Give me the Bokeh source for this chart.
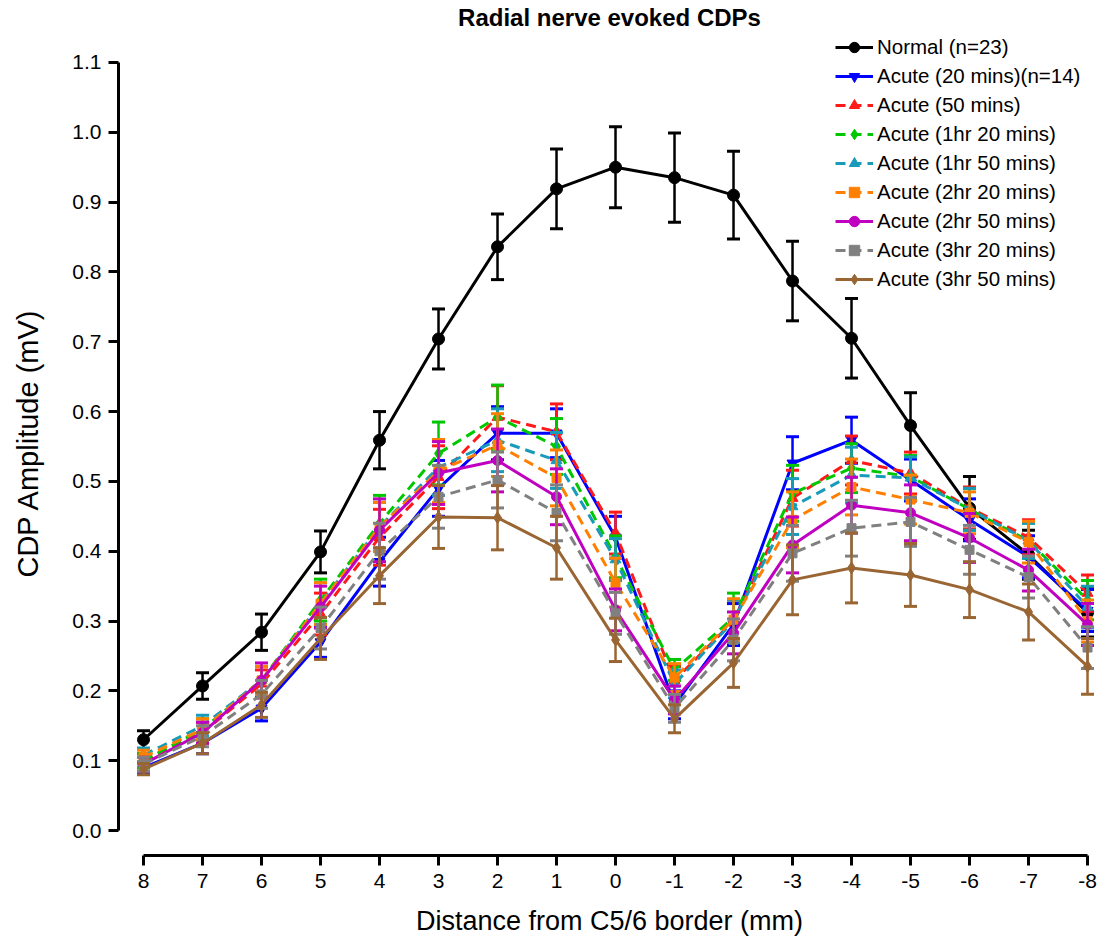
from bokeh.plotting import figure
from bokeh.models import Range1d, FixedTicker, PrintfTickFormatter, Legend, LegendItem
from bokeh.embed import file_html
from bokeh.resources import INLINE

# ---- data ----
distance = [8, 7, 6, 5, 4, 3, 2, 1, 0, -1, -2, -3, -4, -5, -6, -7, -8]
y_ticks = [0.0, 0.1, 0.2, 0.3, 0.4, 0.5, 0.6, 0.7, 0.8, 0.9, 1.0, 1.1]

labels = ["Normal (n=23)", "Acute (20 mins)(n=14)", "Acute (50 mins)", "Acute (1hr 20 mins)",
          "Acute (1hr 50 mins)", "Acute (2hr 20 mins)", "Acute (2hr 50 mins)",
          "Acute (3hr 20 mins)", "Acute (3hr 50 mins)"]

normal_mean = [0.130, 0.207, 0.284, 0.399, 0.559, 0.704, 0.836, 0.919, 0.950, 0.935, 0.910, 0.787, 0.705, 0.580, 0.462, 0.395, 0.312]
normal_sem = [0.013, 0.019, 0.026, 0.030, 0.041, 0.043, 0.047, 0.057, 0.058, 0.064, 0.063, 0.057, 0.057, 0.047, 0.045, 0.035, 0.035]

a20_mean = [0.090, 0.125, 0.175, 0.270, 0.385, 0.490, 0.569, 0.569, 0.420, 0.180, 0.295, 0.526, 0.559, 0.502, 0.445, 0.392, 0.315]
a20_sem = [0.008, 0.015, 0.018, 0.022, 0.035, 0.040, 0.038, 0.035, 0.030, 0.020, 0.030, 0.038, 0.033, 0.030, 0.030, 0.030, 0.030]

a50_mean = [0.100, 0.140, 0.210, 0.310, 0.420, 0.506, 0.592, 0.571, 0.426, 0.215, 0.300, 0.476, 0.530, 0.512, 0.462, 0.420, 0.340]
a50_sem = [0.010, 0.015, 0.020, 0.030, 0.040, 0.045, 0.045, 0.040, 0.030, 0.020, 0.030, 0.040, 0.035, 0.030, 0.030, 0.025, 0.026]

a1h20_mean = [0.100, 0.145, 0.215, 0.330, 0.440, 0.540, 0.592, 0.550, 0.392, 0.230, 0.305, 0.483, 0.519, 0.507, 0.460, 0.415, 0.330]
a1h20_sem = [0.010, 0.015, 0.020, 0.030, 0.040, 0.045, 0.046, 0.040, 0.030, 0.015, 0.035, 0.040, 0.035, 0.030, 0.030, 0.025, 0.028]

a1h50_mean = [0.108, 0.150, 0.215, 0.325, 0.435, 0.520, 0.559, 0.530, 0.388, 0.210, 0.300, 0.464, 0.509, 0.505, 0.460, 0.415, 0.320]
a1h50_sem = [0.010, 0.015, 0.020, 0.030, 0.035, 0.040, 0.045, 0.040, 0.030, 0.020, 0.030, 0.040, 0.040, 0.030, 0.030, 0.025, 0.030]

a2h20_mean = [0.105, 0.145, 0.215, 0.325, 0.435, 0.515, 0.552, 0.505, 0.355, 0.219, 0.302, 0.445, 0.492, 0.474, 0.455, 0.413, 0.300]
a2h20_sem = [0.010, 0.015, 0.020, 0.030, 0.035, 0.045, 0.045, 0.040, 0.035, 0.020, 0.030, 0.040, 0.040, 0.035, 0.030, 0.030, 0.030]

a2h50_mean = [0.095, 0.140, 0.215, 0.320, 0.430, 0.512, 0.530, 0.478, 0.316, 0.187, 0.283, 0.409, 0.466, 0.455, 0.419, 0.373, 0.295]
a2h50_sem = [0.010, 0.015, 0.025, 0.030, 0.045, 0.045, 0.045, 0.040, 0.030, 0.020, 0.030, 0.040, 0.040, 0.040, 0.035, 0.030, 0.030]

a3h20_mean = [0.095, 0.135, 0.195, 0.290, 0.400, 0.478, 0.502, 0.455, 0.311, 0.175, 0.273, 0.397, 0.433, 0.442, 0.402, 0.363, 0.262]
a3h20_sem = [0.010, 0.015, 0.020, 0.030, 0.040, 0.045, 0.040, 0.040, 0.030, 0.020, 0.030, 0.040, 0.040, 0.035, 0.035, 0.030, 0.030]

a3h50_mean = [0.088, 0.125, 0.180, 0.275, 0.365, 0.449, 0.448, 0.405, 0.273, 0.160, 0.240, 0.359, 0.376, 0.366, 0.345, 0.313, 0.235]
a3h50_sem = [0.008, 0.015, 0.018, 0.030, 0.040, 0.045, 0.046, 0.045, 0.031, 0.020, 0.035, 0.050, 0.050, 0.045, 0.040, 0.040, 0.040]

means = [normal_mean, a20_mean, a50_mean, a1h20_mean, a1h50_mean, a2h20_mean, a2h50_mean, a3h20_mean, a3h50_mean]
sems = [normal_sem, a20_sem, a50_sem, a1h20_sem, a1h50_sem, a2h20_sem, a2h50_sem, a3h20_sem, a3h50_sem]

# ---- styles ----
colors = ["#000000", "#0000FF", "#FF1A1A", "#00C800", "#189BB8", "#FF8000", "#C000C0", "#808080", "#996633"]
markers = ["circle", "inverted_triangle", "triangle", "diamond", "triangle", "square", "circle", "square", "diamond"]
msizes = [12, 11, 11, 12, 11, 9, 10, 9, 12]
dashes = ["solid", "solid", "10 6", "10 6", "10 6", "10 6", "solid", "10 6", "solid"]

FONT = "Liberation Sans"

p = figure(width=1104, height=945, output_backend="svg", toolbar_location=None,
           x_range=Range1d(8.424, -8.22), y_range=Range1d(-0.0358, 1.1458),
           min_border_left=118, min_border_right=4, min_border_top=30, min_border_bottom=90)

p.title.text = "Radial nerve evoked CDPs"
p.title.align = "center"
p.title.text_font = FONT
p.title.text_font_size = "24px"
p.title.text_font_style = "bold"
p.title.text_color = "black"
p.title.offset = 10
p.title.standoff = 0

p.outline_line_color = None
p.xgrid.visible = False
p.ygrid.visible = False

for ax in (p.xaxis[0], p.yaxis[0]):
    ax.axis_line_width = 3
    ax.major_tick_line_width = 3
    ax.major_tick_out = 10
    ax.major_tick_in = 0
    ax.minor_tick_line_color = None
    ax.major_label_text_font = FONT
    ax.major_label_text_font_size = "21px"
    ax.major_label_text_color = "black"
    ax.axis_label_text_font = FONT
    ax.axis_label_text_font_style = "normal"
    ax.axis_label_text_color = "black"

p.xaxis.ticker = FixedTicker(ticks=distance)
p.xaxis.major_label_overrides = {d: str(d) for d in distance}
p.xaxis.bounds = (min(distance), max(distance))
p.xaxis.major_label_standoff = 8
p.xaxis.axis_label = "Distance from C5/6 border (mm)"
p.xaxis.axis_label_text_font_size = "27px"
p.xaxis.axis_label_standoff = 15

p.yaxis.ticker = FixedTicker(ticks=y_ticks)
p.yaxis.bounds = (y_ticks[0], y_ticks[-1])
p.yaxis.formatter = PrintfTickFormatter(format="%.1f")
p.yaxis.major_label_standoff = 7
p.yaxis.axis_label = "CDP Amplitude (mV)"
p.yaxis.axis_label_text_font_size = "29px"
p.yaxis.axis_label_standoff = 25

items = []
for lab, m, s, c, mk, ms, d in zip(labels, means, sems, colors, markers, msizes, dashes):
    lo = [a - b for a, b in zip(m, s)]
    hi = [a + b for a, b in zip(m, s)]
    p.segment(x0=distance, y0=lo, x1=distance, y1=hi, line_color=c, line_width=2.5)
    p.scatter(x=distance, y=hi, marker="dash", size=13, line_color=c, line_width=3)
    p.scatter(x=distance, y=lo, marker="dash", size=13, line_color=c, line_width=3)
    ln = p.line(x=distance, y=m, line_color=c, line_width=3, line_dash=d)
    sc = p.scatter(x=distance, y=m, marker=mk, size=ms, fill_color=c, line_color=c)
    items.append(LegendItem(label=lab, renderers=[ln, sc]))

legend = Legend(items=items, location=(717, 563), padding=0, margin=0, spacing=3,
                glyph_width=38, glyph_height=26, label_height=26, label_standoff=4,
                label_text_font=FONT, label_text_font_size="20.5px", label_text_color="black",
                border_line_color=None, background_fill_alpha=0)
p.add_layout(legend)

open("out.html", "w").write(file_html(p, INLINE))
